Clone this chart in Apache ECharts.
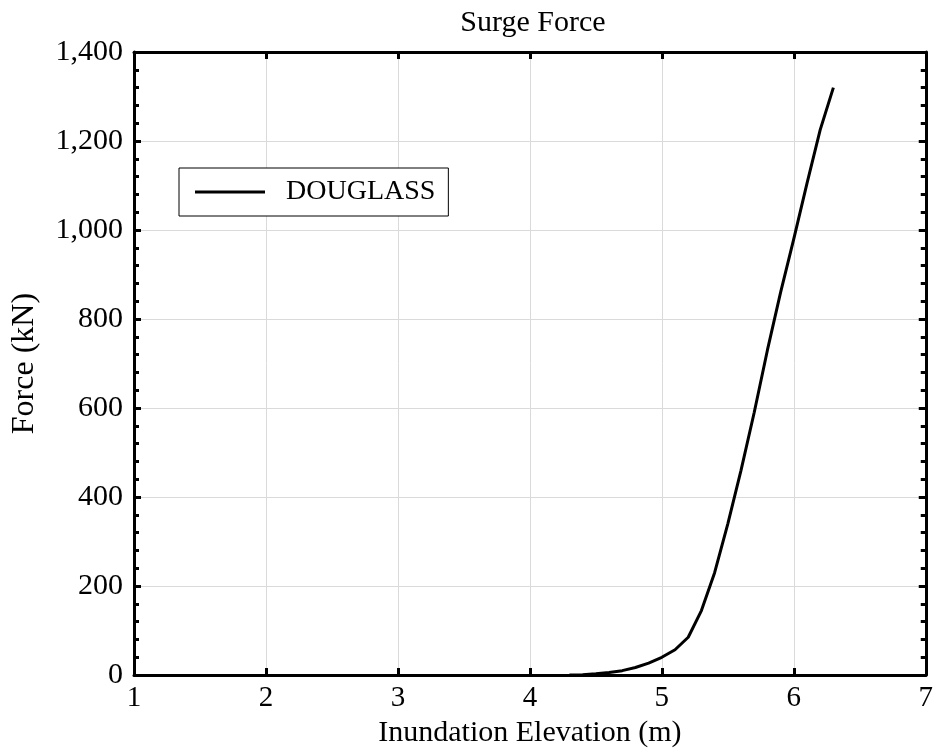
<!DOCTYPE html>
<html>
<head>
<meta charset="utf-8">
<script src="https://cdn.jsdelivr.net/npm/echarts@6/dist/echarts.min.js"></script>
<style>html,body{margin:0;padding:0;background:#fff}#c{width:936px;height:753px}</style>
</head>
<body>
<div id="c"></div>
<script>
var elevation = [4.3, 4.4, 4.5, 4.6, 4.7, 4.8, 4.9, 5.0, 5.1, 5.2, 5.3, 5.4, 5.5, 5.6, 5.7, 5.8, 5.9, 6.0, 6.1, 6.2, 6.3];
var force = [0, 1, 3, 6, 10, 17, 27, 40, 57, 85, 145, 230, 340, 460, 590, 730, 860, 980, 1105, 1225, 1320];
var seriesName = 'DOUGLASS';
var titleText = 'Surge Force';
var xName = 'Inundation Elevation (m)';
var yName = 'Force (kN)';

var font = 'Liberation Serif, Times New Roman, serif';
var chart = echarts.init(document.getElementById('c'));
var data = elevation.map(function (x, i) { return [x, force[i]]; });
function commas(v){ return String(v).replace(/\B(?=(\d{3})+(?!\d))/g, ','); }
var axisLine = {show: true, onZero: false, lineStyle: {color: '#000', width: 3}};
chart.setOption({
  animation: false,
  backgroundColor: '#fff',
  title: {text: titleText, left: 528, top: 3, textAlign: 'center',
    textStyle: {fontFamily: font, fontSize: 30, fontWeight: 'normal', color: '#000'}},
  grid: {left: 134, right: 6, top: 52, bottom: 76, containLabel: false},
  legend: {
    left: 179, top: 168, orient: 'vertical',
    data: [{name: seriesName, icon: 'rect', itemStyle: {color: '#000'}}],
    itemWidth: 70, itemHeight: 3,
    padding: [10, 13, 10, 16],
    borderColor: '#000', borderWidth: 1, backgroundColor: '#fff', borderRadius: 0,
    textStyle: {fontFamily: font, fontSize: 28, color: '#000', padding: [0, 0, 0, 16]}
  },
  xAxis: [{
    type: 'value', position: 'bottom', min: 1, max: 7, interval: 1,
    name: xName, nameLocation: 'middle', nameGap: 40,
    nameTextStyle: {fontFamily: font, fontSize: 30, color: '#000'},
    axisLine: axisLine,
    axisTick: {show: true, inside: true, length: 7, lineStyle: {color: '#000', width: 3}},
    axisLabel: {fontFamily: font, fontSize: 29, color: '#000', margin: 9},
    splitLine: {show: true, lineStyle: {color: '#dadada', width: 1}}
  }, {
    type: 'value', position: 'top', min: 1, max: 7, interval: 1,
    axisLine: axisLine,
    axisTick: {show: true, inside: true, length: 7, lineStyle: {color: '#000', width: 3}},
    axisLabel: {show: false}, splitLine: {show: false}
  }],
  yAxis: [{
    type: 'value', position: 'left', min: 0, max: 1400, interval: 200,
    name: yName, nameLocation: 'middle', nameGap: 93,
    nameTextStyle: {fontFamily: font, fontSize: 32, color: '#000'},
    axisLine: axisLine,
    axisTick: {show: true, inside: true, length: 7, lineStyle: {color: '#000', width: 3}},
    minorTick: {show: true, splitNumber: 5, length: 5, lineStyle: {color: '#000', width: 3}},
    axisLabel: {fontFamily: font, fontSize: 30, color: '#000', margin: 11, formatter: commas},
    splitLine: {show: true, lineStyle: {color: '#dadada', width: 1}}
  }, {
    type: 'value', position: 'right', min: 0, max: 1400, interval: 200,
    axisLine: axisLine,
    axisTick: {show: true, inside: true, length: 7, lineStyle: {color: '#000', width: 3}},
    minorTick: {show: true, splitNumber: 5, length: 5, lineStyle: {color: '#000', width: 3}},
    axisLabel: {show: false}, splitLine: {show: false}
  }],
  series: [{
    name: seriesName, type: 'line', xAxisIndex: 0, yAxisIndex: 0,
    data: data, showSymbol: false, symbol: 'none',
    lineStyle: {color: '#000', width: 3}, itemStyle: {color: '#000'}, z: 3
  }]
});
</script>
</body>
</html>
